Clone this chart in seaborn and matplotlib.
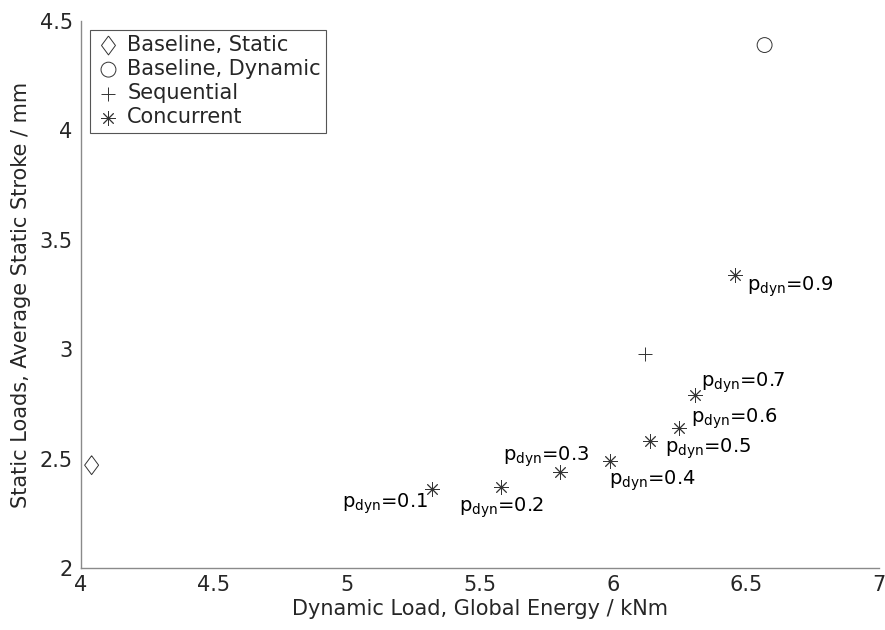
"""
Static stroke vs. dynamic load for baseline, sequential and concurrent cases.
"""

import matplotlib
matplotlib.use("Agg")
import matplotlib.pyplot as plt
import pandas as pd
import seaborn as sns

# data
static_x = [4.04]
static_y = [2.47]
dynamic_x = [6.57]
dynamic_y = [4.39]
seq_x = [6.12]
seq_y = [2.98]
p_dyn = [0.1, 0.2, 0.3, 0.4, 0.5, 0.6, 0.7, 0.9]
conc_x = [5.32, 5.58, 5.80, 5.99, 6.14, 6.25, 6.31, 6.46]
conc_y = [2.36, 2.37, 2.44, 2.49, 2.58, 2.64, 2.79, 3.34]

x_ticks = [4, 4.5, 5, 5.5, 6, 6.5, 7]
y_ticks = [2, 2.5, 3, 3.5, 4, 4.5]

# label offsets (pixels) for the p_dyn annotations
label_offsets = [(-47, -15), (0, -21), (-14, 15), (42, -20),
                 (58, -8), (55, 9), (48, 12), (55, -12)]

sns.set_theme(style="white")
plt.rcParams["font.family"] = ["DejaVu Sans"]
plt.rcParams["mathtext.fontset"] = "dejavusans"

MK = "#333333"
AX = "#8a8a8a"
TXT = "#262626"

# MATLAB-style diamond: taller than wide
diamond = [(0, 1), (0.74, 0), (0, -1), (-0.74, 0), (0, 1)]

fig = plt.figure(figsize=(8.85, 6.3), dpi=100)
ax = fig.add_axes([0.0915, 0.0984, 0.9017, 0.8683])

df_static = pd.DataFrame({"x": static_x, "y": static_y})
df_dyn = pd.DataFrame({"x": dynamic_x, "y": dynamic_y})
df_seq = pd.DataFrame({"x": seq_x, "y": seq_y})
df_conc = pd.DataFrame({"x": conc_x, "y": conc_y, "p": p_dyn})

sns.scatterplot(data=df_static, x="x", y="y", ax=ax, marker=diamond, s=185,
                facecolor="none", edgecolor=MK, linewidth=0.7,
                label="Baseline, Static")
sns.scatterplot(data=df_dyn, x="x", y="y", ax=ax, marker="o", s=115,
                facecolor="none", edgecolor=MK, linewidth=0.7,
                label="Baseline, Dynamic")
sns.scatterplot(data=df_seq, x="x", y="y", ax=ax, marker="+", s=105,
                color=MK, linewidth=0.7, label="Sequential")
sns.scatterplot(data=df_conc, x="x", y="y", ax=ax, marker=(8, 2, 0), s=95,
                color=MK, linewidth=0.65, label="Concurrent")

for (px, py, p), (dx, dy) in zip(zip(conc_x, conc_y, p_dyn), label_offsets):
    ax.annotate(r"$\mathregular{p_{dyn}}$=" + f"{p:g}", (px, py),
                xytext=(dx, dy), textcoords="offset pixels",
                ha="center", va="center", fontsize=14, color="black")

ax.set_xlim(4, 7)
ax.set_ylim(2, 4.5)
ax.set_xticks(x_ticks)
ax.set_yticks(y_ticks)
ax.set_xticklabels([f"{t:g}" for t in x_ticks])
ax.set_yticklabels([f"{t:g}" for t in y_ticks])
ax.set_xlabel("Dynamic Load, Global Energy / kNm", fontsize=15, color=TXT, labelpad=3)
ax.set_ylabel("Static Loads, Average Static Stroke / mm", fontsize=15, color=TXT, labelpad=6)

sns.despine(ax=ax)
for side in ("left", "bottom"):
    ax.spines[side].set_color(AX)
    ax.spines[side].set_linewidth(1.0)
ax.tick_params(axis="x", direction="in", length=7, width=0.8, color=AX,
               labelsize=15, labelcolor=TXT, pad=5)
ax.tick_params(axis="y", direction="in", length=7, width=0.8, color=AX,
               labelsize=15, labelcolor=TXT, pad=6)

leg = ax.legend(loc="upper left", bbox_to_anchor=(0.0, 1.0), borderaxespad=0.42,
                fontsize=15, frameon=True, fancybox=False, framealpha=1,
                handletextpad=0.25, handlelength=1.3, borderpad=0.25,
                labelspacing=0.2)
leg.get_frame().set_edgecolor("#555555")
leg.get_frame().set_linewidth(0.8)

fig.savefig("out.png", dpi=100)
